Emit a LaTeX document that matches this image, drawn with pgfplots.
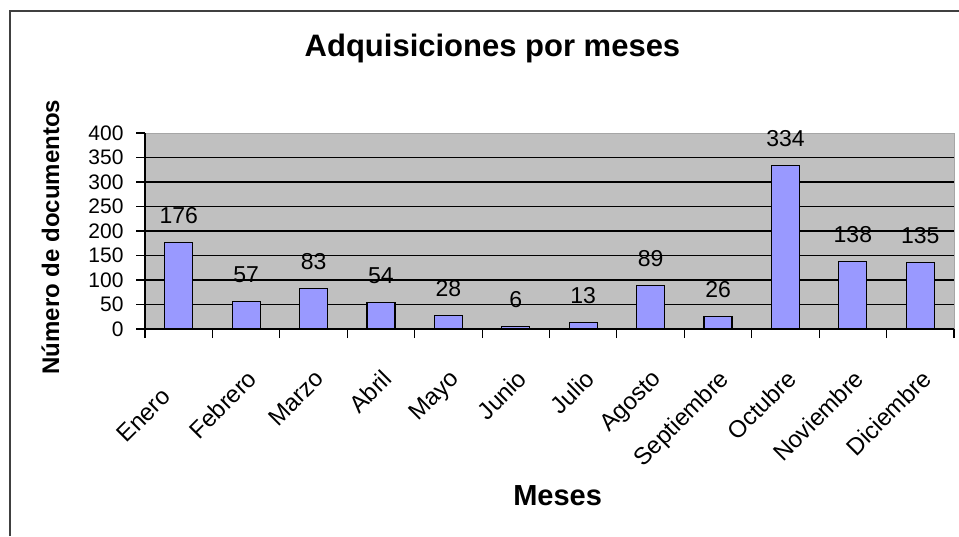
\documentclass[border=0pt]{standalone}
\usepackage{fontspec}
\setmainfont{Liberation Sans}
\usepackage{pgfplots}
\pgfplotsset{compat=1.18}
\definecolor{barfill}{HTML}{9999FF}
\definecolor{plotbg}{HTML}{C0C0C0}
\definecolor{frame}{HTML}{404040}
\begin{document}
\begin{tikzpicture}
\path[use as bounding box] (0,0) rectangle (959pt,536pt);
\fill[white] (0,0) rectangle (959pt,536pt);
\draw[frame, line width=2pt] (10pt,0) -- (10pt,525pt) -- (959pt,525pt);
\begin{axis}[
  at={(145pt,207pt)}, anchor=south west,
  scale only axis, width=809pt, height=196pt,
  xmin=-0.5, xmax=11.5, ymin=0, ymax=400,
  ytick={0,50,...,400},
  extra y ticks={50,100,...,350},
  extra y tick labels={},
  extra y tick style={grid=major},
  grid style={black, line width=1.1pt},
  xtick={-0.5,0.5,...,11.5},
  x tick label as interval,
  xticklabels={Enero\hspace*{26pt},Febrero,Marzo,Abril,Mayo,Junio,Julio,Agosto,Septiembre,Octubre,Noviembre,Diciembre},
  axis x line*=bottom, axis y line*=left,
  axis line style={black, line width=1.2pt, -},
  axis background/.style={fill=plotbg, draw=gray!70, line width=1pt},
  tick align=outside, major tick length=9pt,
  tick style={black, line width=1.1pt},
  /pgf/number format/assume math mode=true,
  yticklabel style={font=\fontsize{21pt}{24pt}\selectfont, xshift=-9pt},
  xticklabel style={font=\fontsize{24pt}{28pt}\selectfont, rotate=45, anchor=north east, xshift=-18pt, yshift=-18pt},
  title={\bfseries Adquisiciones por meses},
  title style={font=\fontsize{31pt}{36pt}\selectfont, at={(rel axis cs:0.4295,1.40)}, anchor=center},
  xlabel={\bfseries Meses},
  xlabel style={font=\fontsize{29pt}{34pt}\selectfont, at={(rel axis cs:0.51,-0.852)}, anchor=center},
  ylabel={\bfseries Número de documentos},
  ylabel style={font=\fontsize{24pt}{28pt}\selectfont, at={(rel axis cs:-0.117,0.469)}, anchor=center, rotate=0},
  nodes near coords,
  nodes near coords style={font=\fontsize{23pt}{26pt}\selectfont, anchor=base, yshift=19pt},
]
\addplot[ybar, bar width=28pt, fill=barfill, draw=black, line width=1.1pt] coordinates {
  (0,176) (1,57) (2,83) (3,54) (4,28) (5,6) (6,13) (7,89) (8,26) (9,334) (10,138) (11,135)
};
\end{axis}
\end{tikzpicture}
\end{document}
